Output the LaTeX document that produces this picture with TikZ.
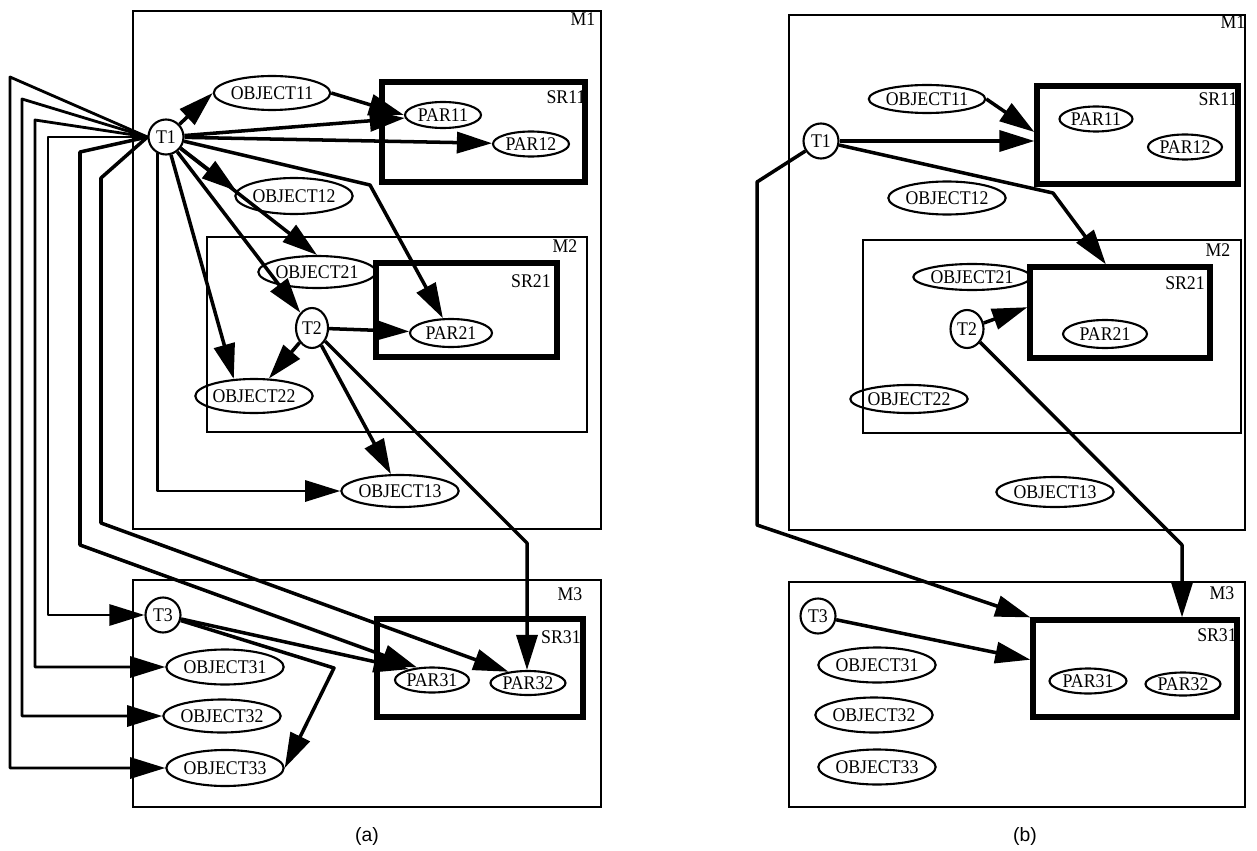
\documentclass[tikz,border=0pt]{standalone}
\usepackage{fontspec}
\setmainfont{Liberation Serif}[FakeStretch=0.92]
\newfontfamily\capfont{Liberation Sans}
\usetikzlibrary{arrows.meta,shapes.geometric,calc}
\begin{document}
\begin{tikzpicture}[x=0.02cm,y=-0.02cm,
  mbox/.style={draw,line width=1.3pt,inner sep=0pt},
  srbox/.style={draw,line width=3pt,inner sep=0pt},
  obj/.style={ellipse,draw,line width=1.2pt,inner sep=0pt,font=\fontsize{11}{13}\selectfont},
  tsk/.style={circle,draw,line width=1.2pt,inner sep=0pt,minimum size=0.7cm,font=\fontsize{11}{13}\selectfont},
  lbl/.style={inner sep=0pt,font=\fontsize{11}{13}\selectfont},
  captxt/.style={inner sep=0pt,font=\capfont\fontsize{11}{13}\selectfont},
  conn/.style={line width=2pt,line join=round,-{Triangle[length=20pt,width=12pt]}},
  connt/.style={line width=1.6pt,line join=round,-{Triangle[length=20pt,width=12pt]}},
]
\useasboundingbox (0,0) rectangle (1257,851);

% ---------------- (a) boxes ----------------
\node[mbox, minimum width=9.36cm, minimum height=10.36cm] (m1a) at (367,270) {};
\node[srbox, minimum width=4.06cm, minimum height=2.0cm] (sr11a) at (483.5,132) {};
\node[mbox, minimum width=7.6cm, minimum height=3.9cm] (m2a) at (397,334.5) {};
\node[srbox, minimum width=3.62cm, minimum height=1.88cm] (sr21a) at (466.5,310) {};
\node[mbox, minimum width=9.36cm, minimum height=4.54cm] (m3a) at (367,693.5) {};
\node[srbox, minimum width=4.12cm, minimum height=1.96cm] (sr31a) at (480,668) {};
\node[lbl] (lm1a) at (583,19) {M1};
\node[lbl] (lsr11a) at (566,97) {SR11};
\node[lbl] (lm2a) at (565,246) {M2};
\node[lbl] (lsr21a) at (531,281) {SR21};
\node[lbl] (lm3a) at (570,594) {M3};
\node[lbl] (lsr31a) at (561,637) {SR31};

% ---------------- (a) nodes ----------------
\node[tsk] (t1a) at (166,137) {T1};
\node[obj, minimum width=2.0cm, minimum height=0.68cm] (o11a) at (272,93) {OBJECT11};
\node[obj, minimum width=1.52cm, minimum height=0.52cm] (p11a) at (443,115) {PAR11};
\node[obj, minimum width=1.52cm, minimum height=0.5cm] (p12a) at (531,144) {PAR12};
\node[obj, minimum width=2.0cm, minimum height=0.72cm] (o12a) at (294,196) {OBJECT12};
\node[obj, minimum width=2.0cm, minimum height=0.64cm] (o21a) at (317,272) {OBJECT21};
\node[obj, minimum width=0.64cm, minimum height=0.8cm] (t2a) at (312,328) {T2};
\node[obj, minimum width=1.64cm, minimum height=0.56cm] (p21a) at (451,333) {PAR21};
\node[obj, minimum width=1.84cm, minimum height=0.68cm] (o22a) at (254,396) {OBJECT22};
\node[obj, minimum width=2.2cm, minimum height=0.64cm] (o13a) at (400,491) {OBJECT13};
\node[tsk] (t3a) at (163,615) {T3};
\node[obj, minimum width=2.04cm, minimum height=0.7cm] (o31a) at (225,667) {OBJECT31};
\node[obj, minimum width=2.04cm, minimum height=0.66cm] (o32a) at (222,716) {OBJECT32};
\node[obj, minimum width=2.04cm, minimum height=0.72cm] (o33a) at (225,768) {OBJECT33};
\node[obj, minimum width=1.48cm, minimum height=0.5cm] (p31a) at (432,680) {PAR31};
\node[obj, minimum width=1.5cm, minimum height=0.48cm] (p32a) at (528,683) {PAR32};

% ---------------- (a) connectors ----------------
\draw[conn] (t1a) -- (o11a.west);
\draw[conn] (o11a.east) -- (p11a.west);
\draw[conn] (t1a) -- (p11a);
\draw[conn] (t1a) -- (p12a);
\draw[conn] (t1a) -- (370,185) -- (p21a);
\draw[conn] (t1a) -- (o12a.175);
\draw[conn] (t1a) -- (o21a.north);
\draw[conn] (t1a) -- (t2a);
\draw[conn] (t1a) -- (o22a.140);
\draw[connt] (t1a.242) |- (o13a.west);
\draw[connt] (t1a.west) -- (10,77) |- (o33a.west);
\draw[connt] (t1a.west) -- (22,99) |- (o32a.west);
\draw[connt] (t1a.west) -- (35,120) |- (o31a.west);
\draw[connt] (t1a.west) -- (48,137) |- (t3a.west);
\draw[conn] (t1a.west) -- (80,152) -- (80,545) -- (p31a.140);
\draw[conn] (t1a.west) -- (101,178) -- (101,523) -- (p32a.150);
\draw[conn] (t2a) -- (p21a);
\draw[conn] (t2a) -- (o22a);
\draw[conn] (t2a) -- (o13a);
\coordinate (ba2) at (527,543);
\draw[conn] (t2a) -- (ba2) -- (ba2 |- p32a.north);
\draw[conn] (t3a) -- (p31a.155);
\draw[conn] (t3a) -- (334,668) -- (o33a.east);

% ---------------- (b) boxes ----------------
\node[mbox, minimum width=9.12cm, minimum height=10.3cm] (m1b) at (1017,272.5) {};
\node[srbox, minimum width=4.02cm, minimum height=1.96cm] (sr11b) at (1137.5,135) {};
\node[mbox, minimum width=7.56cm, minimum height=3.86cm] (m2b) at (1052,336.5) {};
\node[srbox, minimum width=3.6cm, minimum height=1.82cm] (sr21b) at (1120,312.5) {};
\node[mbox, minimum width=9.12cm, minimum height=4.5cm] (m3b) at (1017,694.5) {};
\node[srbox, minimum width=4.08cm, minimum height=1.94cm] (sr31b) at (1135,668.5) {};
\node[lbl] (lm1b) at (1233,22) {M1};
\node[lbl] (lsr11b) at (1218,99) {SR11};
\node[lbl] (lm2b) at (1218,250) {M2};
\node[lbl] (lsr21b) at (1185,283) {SR21};
\node[lbl] (lm3b) at (1222,593) {M3};
\node[lbl] (lsr31b) at (1217,635) {SR31};

% ---------------- (b) nodes ----------------
\node[tsk] (t1b) at (821,141) {T1};
\node[obj, minimum width=2.04cm, minimum height=0.56cm] (o11b) at (927,99) {OBJECT11};
\node[obj, minimum width=1.46cm, minimum height=0.5cm] (p11b) at (1096,119) {PAR11};
\node[obj, minimum width=1.48cm, minimum height=0.5cm] (p12b) at (1185,147) {PAR12};
\node[obj, minimum width=2.02cm, minimum height=0.66cm] (o12b) at (947,198) {OBJECT12};
\node[obj, minimum width=2.04cm, minimum height=0.52cm] (o21b) at (972,277) {OBJECT21};
\node[obj, minimum width=0.66cm, minimum height=0.76cm] (t2b) at (967,329) {T2};
\node[obj, minimum width=1.68cm, minimum height=0.56cm] (p21b) at (1105,334) {PAR21};
\node[obj, minimum width=1.84cm, minimum height=0.56cm] (o22b) at (909,399) {OBJECT22};
\node[obj, minimum width=2.2cm, minimum height=0.6cm] (o13b) at (1055,492) {OBJECT13};
\node[tsk] (t3b) at (818,616) {T3};
\node[obj, minimum width=2.0cm, minimum height=0.7cm] (o31b) at (877,665) {OBJECT31};
\node[obj, minimum width=2.04cm, minimum height=0.7cm] (o32b) at (874,715) {OBJECT32};
\node[obj, minimum width=2.0cm, minimum height=0.7cm] (o33b) at (877,767) {OBJECT33};
\node[obj, minimum width=1.54cm, minimum height=0.5cm] (p31b) at (1088,681) {PAR31};
\node[obj, minimum width=1.5cm, minimum height=0.46cm] (p32b) at (1183,684) {PAR32};

% ---------------- (b) connectors ----------------
\draw[conn] (o11b.east) -- ([yshift=1.7pt]sr11b.west);
\draw[conn] (t1b) -- (t1b -| sr11b.west);
\draw[conn] (t1b) -- (1053,193) -- ([xshift=-8pt]sr21b.north);
\draw[conn] (t2b) -- ([yshift=3pt]sr21b.west);
\coordinate (bb5) at (1182,545);
\draw[conn] (t2b) -- (bb5) -- (bb5 |- sr31b.north);
\draw[conn] (t1b) -- (757,182) -- (757,525) -- (sr31b.north west);
\draw[conn] (t3b) -- ([yshift=5pt]sr31b.west);

% ---------------- captions ----------------
\node[captxt] (capa) at (367,836) {(a)};
\node[captxt] (capb) at (1025,836) {(b)};
\end{tikzpicture}
\end{document}
